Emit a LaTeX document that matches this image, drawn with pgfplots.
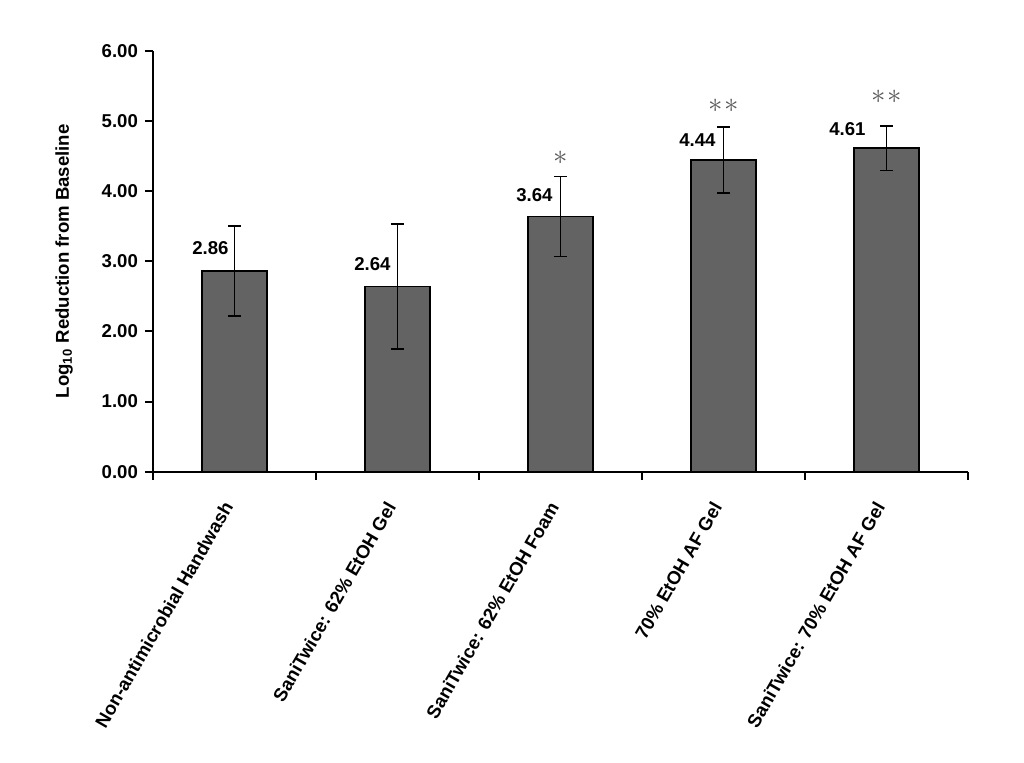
\documentclass[border=0pt]{standalone}
\usepackage{pgfplots}
\pgfplotsset{compat=1.18}
\usepackage{pgfplotstable}
\usepackage{fontspec}
\setmainfont{Liberation Sans}
\definecolor{barfill}{RGB}{99,99,99}
\definecolor{stargray}{RGB}{90,90,90}

\pgfplotstableread{
x y err dx dy
0 2.86 0.64 -12.0 11.5
1 2.64 0.89 -12.5 11.2
2 3.64 0.57 -13.0 10.5
3 4.44 0.47 -13.0 10.0
4 4.61 0.32 -19.5 9.5
}\datatable

\pgfplotstableread{
x y sx
2 4.47 0
3 5.21 -1
3 5.21 1
4 5.35 -1
4 5.35 1
}\startable

\begin{document}
\begin{tikzpicture}
\begin{axis}[
  width=407.5pt, height=210.5pt, scale only axis,
  xmin=-0.5, xmax=4.5, ymin=0, ymax=6,
  axis x line*=bottom, axis y line*=left,
  axis line style={line width=1pt, -},
  xtick pos=bottom, ytick pos=left,
  tick align=outside,
  major tick length=4pt,
  minor tick length=4pt,
  ytick={0,1,2,3,4,5,6},
  ytick style={line width=1pt, black},
  yticklabel style={/pgf/number format/fixed, /pgf/number format/fixed zerofill, /pgf/number format/precision=2, font=\fontsize{9.3}{11}\selectfont\bfseries, text=black},
  /pgf/number format/assume math mode=true,
  xtick={0,1,2,3,4},
  xticklabels={Non-antimicrobial Handwash, SaniTwice: 62\% EtOH Gel, SaniTwice: 62\% EtOH Foam, 70\% EtOH AF Gel, SaniTwice: 70\% EtOH AF Gel},
  major x tick style={draw=none},
  minor xtick={-0.5,0.5,1.5,2.5,3.5,4.5},
  minor x tick style={line width=1pt, black},
  xticklabel style={yshift=-9pt, xshift=-1.5pt, rotate=60, anchor=east, font=\fontsize{9.3}{11}\selectfont\bfseries, text=black},
  ylabel={Log\textsubscript{10} Reduction from Baseline},
  ylabel style={at={(axis description cs:-0.109,0.5)}, anchor=center, rotate=0, font=\fontsize{9.3}{11}\selectfont\bfseries},
  clip=false,
]
\addplot[ybar, bar width=32.5pt, fill=barfill, draw=black, line width=0.75pt,
  error bars/.cd, y dir=both, y explicit,
  error bar style={line width=0.75pt, black},
  error mark options={rotate=90, mark size=3.25pt, line width=0.75pt, black},
  /pgfplots/.cd,
  visualization depends on={\thisrow{dx} \as \dx},
  visualization depends on={\thisrow{dy} \as \dy},
  nodes near coords={\pgfmathprintnumber[fixed, fixed zerofill, precision=2, assume math mode=true]{\pgfplotspointmeta}},
  every node near coord/.append style={anchor=center, xshift=\dx, yshift=\dy, font=\fontsize{9.3}{11}\selectfont\bfseries, text=black},
] table[x=x, y=y, y error=err] {\datatable};
\addplot[draw=none, mark=none,
  visualization depends on={\thisrow{sx} \as \sx},
  nodes near coords={$\ast$},
  every node near coord/.append style={anchor=center, xshift=4*\sx, font=\fontsize{14.5}{16}\selectfont, text=stargray},
] table[x=x, y=y] {\startable};
\end{axis}
\pgfresetboundingbox
\path[use as bounding box] (-76.5pt,-145.15pt) rectangle (435.5pt,235.85pt);
\end{tikzpicture}
\end{document}
